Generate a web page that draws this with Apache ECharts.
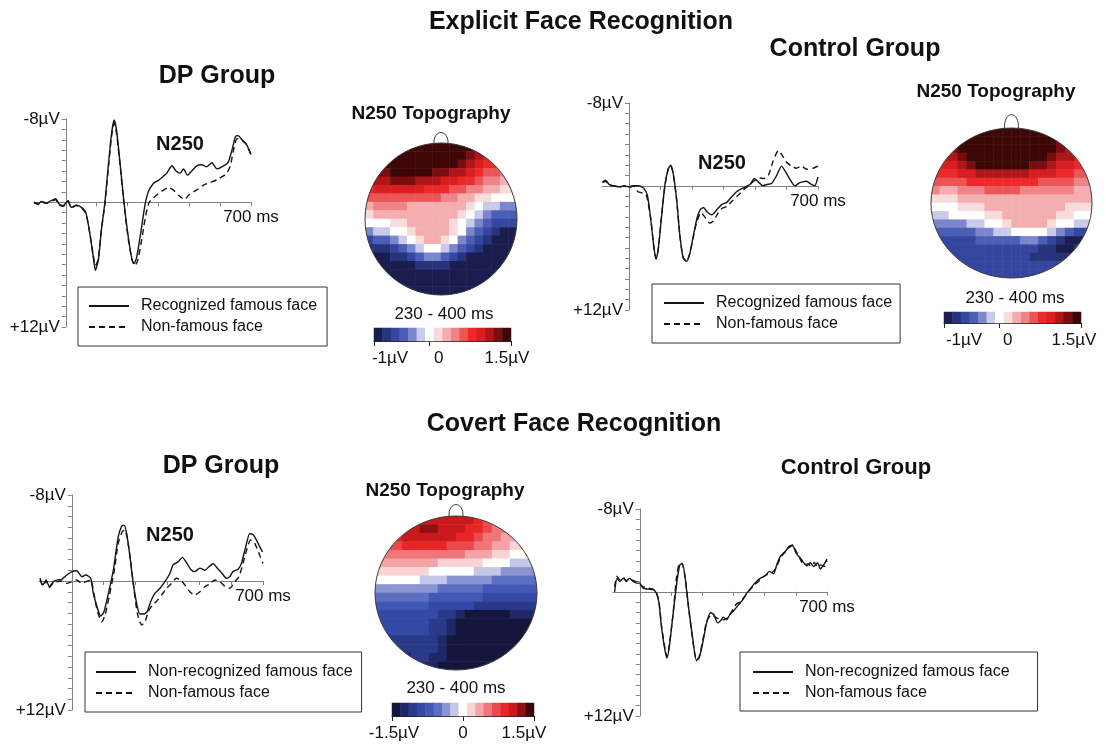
<!DOCTYPE html>
<html>
<head>
<meta charset="utf-8">
<script src="https://cdn.jsdelivr.net/npm/echarts@6/dist/echarts.min.js"></script>
<style>
  html, body { margin: 0; padding: 0; background: #fff; }
  #chart { width: 1106px; height: 749px; }
</style>
</head>
<body>
<div id="chart"></div>
<script>
const FONT = '"Liberation Sans", Arial, Helvetica, sans-serif';

// ---- ERP axes ----
const timeTicks = [0, 116.7, 233.3, 350, 466.7, 583.3, 700];
const timeLabels = [700];
const voltLabels = [-8, 12];

// ---- ERP waveforms, [ms, µV] (negative plotted up) ----
const expDpRecognized = [[-120,0],[-105,0.17],[-92,-0.07],[-73,0.07],[-54,-0.17],[-38,-0.33],[-25,0.17],[-10,0.33],[9,-0.17],[21,0.5],[40,0.26],[59,0.5],[76,1.0],[91,3.0],[104,5.3],[112,6.55],[123,5.6],[135,2.6],[148,0],[160,-3.3],[173,-6.6],[183,-7.9],[192,-6.9],[205,-3.8],[220,0],[236,3.3],[251,5.6],[258,5.9],[268,5.3],[283,3.0],[299,0.33],[312,-1.0],[331,-1.8],[350,-2.1],[369,-2.5],[382,-2.8],[401,-3.5],[417,-3.0],[432,-2.8],[445,-3.2],[460,-2.6],[476,-3.0],[495,-3.5],[514,-3.6],[533,-3.4],[552,-3.8],[571,-3.2],[590,-3.4],[613,-3.8],[628,-5.0],[641,-6.3],[651,-6.4],[666,-6.0],[682,-5.6],[700,-4.6]];
const expDpNonFamous = [[-120,0.07],[-105,0.2],[-92,0],[-73,0.1],[-54,-0.1],[-38,-0.23],[-25,0.26],[-10,0.4],[9,-0.07],[21,0.56],[40,0.33],[59,0.53],[76,1.06],[91,3.0],[104,5.1],[112,6.1],[123,5.45],[135,2.6],[148,0.17],[160,-3.0],[173,-6.3],[183,-7.6],[192,-6.6],[205,-3.6],[220,0.17],[236,3.5],[251,5.6],[261,6.1],[272,5.6],[287,3.6],[302,1.3],[315,0],[331,-0.4],[350,-0.83],[369,-1.16],[388,-1.4],[407,-1.16],[426,-0.66],[449,-0.26],[464,-0.66],[483,-1.0],[502,-1.3],[521,-1.65],[546,-1.9],[571,-2.15],[594,-2.5],[609,-2.8],[622,-3.5],[634,-5.0],[647,-6.1],[666,-5.95],[682,-5.55],[700,-4.56]];

const expCtrlRecognized = [[-98,-0.38],[-86,-0.54],[-74,-0.13],[-55,0],[-37,0.1],[-18,0],[0,0.1],[12,0],[37,0],[55,0.25],[68,0.9],[80,3.1],[92,5.9],[100,7.1],[108,6.2],[120,3.1],[133,-0.06],[145,-1.6],[154,-2.0],[163,-1.3],[176,1.2],[188,4.7],[200,6.9],[213,7.3],[225,6.55],[237,5.0],[252,3.1],[264,2.3],[276,2.1],[289,2.5],[307,2.8],[326,2.3],[344,1.8],[362,1.6],[381,1.04],[399,0.57],[424,0.19],[448,-0.13],[464,-0.7],[479,-0.38],[495,0],[510,-0.13],[528,-0.22],[547,-1.0],[565,-1.9],[583,-1.2],[602,-0.38],[614,0],[633,-0.3],[657,-0.44],[676,-0.13],[688,0],[700,-0.85]];
const expCtrlNonFamous = [[-98,-0.3],[-86,-0.44],[-74,-0.06],[-55,0.03],[-37,0.13],[-18,0.03],[0,0.16],[18,0],[33,0.57],[53,0.72],[65,0.95],[80,3.1],[92,5.9],[100,7.0],[108,6.2],[120,3.1],[133,0],[145,-1.6],[154,-1.95],[163,-1.26],[176,1.26],[188,4.7],[200,6.9],[213,7.3],[225,6.55],[237,5.1],[252,3.4],[267,2.6],[283,3.1],[299,3.6],[313,3.4],[326,2.8],[344,2.2],[362,2.0],[381,1.5],[399,1.04],[424,0.4],[448,-0.13],[467,-0.54],[485,-0.75],[500,-0.7],[516,-1.0],[534,-2.4],[553,-3.4],[565,-3.05],[583,-2.3],[602,-1.9],[620,-1.7],[639,-1.9],[657,-1.6],[682,-1.7],[700,-1.9]];

const covDpNonRecognized = [[-116,-0.25],[-106,0.37],[-94,-0.1],[-82,0.53],[-67,0.06],[-52,-0.1],[-37,-0.16],[-18,-0.56],[0,-0.87],[18,-0.96],[37,-0.4],[52,-0.56],[69,-0.25],[79,1.15],[94,2.54],[106,3.26],[118,2.85],[134,1.15],[152,-1.0],[170,-4.1],[183,-5.1],[191,-5.2],[201,-4.4],[213,-2.26],[225,0.22],[240,2.4],[250,3.07],[264,3.07],[276,2.85],[289,1.9],[304,1.15],[323,0.68],[341,0.06],[359,-0.7],[371,-1.5],[390,-1.8],[405,-2.2],[420,-1.7],[435,-1.1],[450,-0.87],[469,-1.2],[487,-1.0],[505,-1.4],[517,-1.6],[536,-1.1],[552,-0.65],[566,-0.25],[578,-0.4],[590,-0.87],[609,-1.1],[621,-1.64],[637,-3.2],[651,-4.4],[664,-4.3],[676,-3.8],[688,-3.2],[698,-2.7]];
const covDpNonFamous = [[-116,-0.15],[-106,0.47],[-94,0],[-82,0.6],[-67,0.15],[-52,0.06],[-37,0],[-18,0.22],[0,0.06],[18,-0.1],[37,0.22],[52,0.06],[69,-0.1],[82,1.3],[94,2.85],[110,3.8],[122,3.16],[138,1.3],[155,-0.87],[170,-3.5],[185,-4.6],[194,-4.75],[203,-4.0],[215,-1.95],[228,0.84],[240,3.0],[256,4.1],[268,3.8],[280,2.85],[296,2.2],[310,1.9],[329,1.3],[347,0.68],[365,0.22],[383,-0.25],[398,-0.1],[414,0.37],[432,1.0],[450,1.3],[469,1.0],[487,0.53],[505,0.28],[523,-0.1],[542,0.06],[560,0.47],[578,0.68],[597,0.06],[612,-0.4],[627,-1.64],[642,-3.04],[654,-3.8],[666,-3.66],[678,-3.04],[690,-2.26],[700,-1.64]];

const covCtrlNonRecognized = [[-94,0],[-85,-1.3],[-75,-1.0],[-62,-1.3],[-50,-1.1],[-37,-1.3],[-25,-1.0],[-10,-0.84],[0,-0.84],[12,-0.35],[31,-0.26],[50,-0.2],[62,0.13],[72,1.1],[81,3.35],[94,5.6],[102,6.4],[112,5.0],[125,2.06],[140,-1.16],[150,-2.6],[160,-2.7],[170,-1.3],[182,1.4],[197,4.3],[212,6.65],[222,6.4],[235,5.0],[250,3.0],[265,2.0],[277,2.2],[291,3.0],[302,2.8],[312,2.45],[325,2.7],[337,2.2],[352,1.8],[369,1.26],[387,0.7],[400,0.13],[415,-0.35],[431,-0.84],[450,-1.3],[469,-1.55],[485,-1.97],[500,-1.74],[512,-2.6],[525,-3.4],[544,-3.9],[562,-4.45],[572,-4.45],[585,-3.7],[600,-3.26],[612,-2.84],[625,-2.5],[637,-2.8],[650,-2.45],[665,-2.8],[675,-2.2],[690,-2.7],[700,-3.16]];
const covCtrlNonFamous = [[-94,-0.5],[-85,-1.5],[-75,-1.16],[-62,-1.4],[-50,-1.0],[-37,-1.2],[-25,-1.1],[-10,-0.9],[0,-0.68],[12,-0.5],[31,-0.35],[50,-0.26],[62,0.06],[72,0.94],[81,3.2],[94,5.45],[102,6.26],[112,4.9],[125,2.0],[137,-1.3],[147,-2.7],[157,-2.77],[169,-1.5],[182,1.4],[197,4.5],[212,6.6],[222,6.3],[235,4.8],[250,2.87],[269,2.2],[285,2.5],[300,2.65],[315,2.7],[331,2.45],[344,1.9],[362,1.16],[377,0.94],[394,0.39],[410,-0.13],[425,-0.58],[444,-1.0],[460,-1.42],[475,-1.65],[494,-1.87],[510,-2.3],[525,-3.26],[540,-3.74],[556,-4.2],[571,-4.55],[585,-3.9],[600,-3.16],[612,-2.6],[627,-2.7],[640,-2.5],[652,-2.84],[665,-2.4],[677,-2.6],[690,-2.45],[700,-3.0]];

// ---- N250 topographies, 18 x 18 cells, top row = front of head, units 0.1 µV ----
const topoExpDp = [
  [14,14,14,14,14,14,14,14,14,14,14,14,14,13,11,10,10,10],
  [14,14,14,14,14,14,14,14,14,14,14,14,13,11,10,10,8,8],
  [13,13,14,14,14,14,14,14,14,14,14,13,11,10,8,8,6,6],
  [11,13,13,14,14,14,14,14,13,13,11,11,10,8,6,6,5,5],
  [10,11,11,13,13,13,11,11,11,10,10,8,8,6,5,5,3,3],
  [8,10,10,10,10,10,10,8,8,8,6,6,5,5,3,3,2,2],
  [6,6,6,6,6,6,6,6,6,5,5,3,3,2,2,0,0,0],
  [3,5,5,5,5,3,3,3,3,3,3,3,2,0,-1,-1,-3,-3],
  [2,3,3,3,3,3,3,3,3,3,3,2,0,-1,-3,-5,-5,-5],
  [0,0,0,2,2,3,3,3,3,3,2,0,-1,-3,-5,-6,-6,-6],
  [-3,-1,-1,0,0,2,3,3,3,3,2,0,-3,-5,-6,-8,-9,-9],
  [-6,-5,-5,-3,-1,0,2,3,3,2,0,-3,-5,-6,-8,-9,-9,-9],
  [-8,-8,-8,-6,-5,-3,-1,0,0,-1,-3,-5,-6,-8,-9,-9,-9,-9],
  [-9,-9,-9,-8,-8,-6,-5,-3,-3,-5,-6,-8,-9,-9,-9,-9,-9,-9],
  [-9,-9,-9,-9,-9,-9,-8,-8,-8,-8,-9,-9,-9,-9,-9,-9,-9,-9],
  [-10,-10,-10,-10,-10,-10,-10,-10,-10,-10,-10,-10,-10,-10,-10,-10,-10,-10],
  [-10,-10,-10,-10,-10,-10,-10,-10,-10,-10,-10,-10,-10,-10,-10,-10,-10,-10],
  [-10,-10,-10,-10,-10,-10,-10,-10,-10,-10,-10,-10,-10,-10,-10,-10,-10,-10]
];
const topoExpCtrl = [
  [13,13,13,14,14,14,14,14,14,14,14,14,14,14,13,13,11,11],
  [13,13,13,14,14,14,14,14,14,14,14,14,14,14,13,13,11,11],
  [13,13,13,14,14,14,14,14,14,14,14,14,14,14,13,11,11,10],
  [11,11,11,13,14,14,14,14,14,14,14,14,14,13,11,11,10,10],
  [10,10,10,11,13,14,14,14,14,14,14,13,13,11,10,10,8,8],
  [8,8,8,10,10,11,11,11,11,11,11,10,10,10,8,8,6,6],
  [6,6,6,6,8,8,8,8,8,8,8,8,6,6,6,6,5,5],
  [5,3,3,5,5,5,6,6,6,6,5,5,5,5,5,5,3,3],
  [2,2,2,3,3,3,3,3,3,3,3,3,3,3,3,3,3,3],
  [0,0,0,2,2,2,3,3,3,3,3,3,3,3,3,2,2,2],
  [-1,-1,0,0,0,0,2,2,3,3,3,3,3,3,2,2,0,0],
  [-3,-3,-3,-3,-1,-1,0,0,2,3,3,3,3,2,0,0,-1,-1],
  [-5,-5,-5,-5,-5,-3,-3,-1,-1,0,0,0,0,-1,-3,-5,-6,-6],
  [-6,-6,-6,-6,-6,-5,-5,-5,-5,-5,-3,-3,-5,-6,-8,-9,-9,-8],
  [-6,-6,-6,-6,-6,-6,-6,-6,-6,-6,-6,-6,-8,-8,-9,-9,-8,-8],
  [-6,-6,-6,-6,-6,-6,-6,-6,-6,-6,-6,-8,-8,-8,-8,-8,-8,-8],
  [-6,-6,-6,-6,-6,-6,-6,-6,-6,-6,-6,-6,-6,-6,-6,-6,-6,-6],
  [-6,-6,-6,-6,-6,-6,-6,-6,-6,-6,-6,-6,-6,-6,-6,-6,-6,-6]
];
const topoCovDp = [
  [11,11,11,11,11,11,11,11,11,11,11,9,7,7,5,5,4,4],
  [11,11,11,11,11,12,12,11,11,11,9,9,7,5,5,4,4,4],
  [9,9,9,11,11,11,11,11,11,9,9,7,5,5,4,4,2,2],
  [7,7,7,9,9,9,9,9,7,7,7,5,5,4,4,2,2,2],
  [5,5,5,5,5,5,5,5,5,5,4,4,4,2,2,0,0,0],
  [4,4,4,4,4,4,4,2,2,2,2,2,0,0,0,-2,-2,-2],
  [2,2,2,2,2,2,0,0,0,0,0,-2,-2,-2,-4,-4,-4,-4],
  [0,0,0,0,0,-2,-2,-2,-4,-4,-4,-4,-4,-5,-5,-5,-5,-5],
  [-4,-4,-4,-4,-4,-4,-4,-5,-5,-5,-5,-5,-7,-7,-7,-7,-7,-7],
  [-5,-5,-5,-5,-5,-5,-7,-7,-7,-7,-7,-7,-9,-9,-9,-9,-9,-9],
  [-7,-7,-7,-7,-7,-7,-9,-9,-9,-9,-9,-11,-11,-11,-11,-11,-11,-11],
  [-9,-9,-9,-9,-9,-9,-9,-11,-11,-12,-14,-14,-14,-14,-14,-12,-12,-12],
  [-9,-9,-9,-9,-9,-9,-11,-11,-12,-14,-14,-14,-14,-14,-14,-14,-14,-14],
  [-9,-9,-9,-9,-9,-9,-11,-11,-12,-14,-14,-14,-14,-14,-14,-14,-14,-14],
  [-11,-11,-11,-11,-11,-11,-11,-12,-14,-14,-14,-14,-14,-14,-14,-14,-14,-14],
  [-11,-11,-11,-11,-11,-11,-11,-12,-14,-14,-14,-14,-14,-14,-14,-14,-14,-14],
  [-12,-12,-12,-12,-11,-11,-12,-12,-14,-14,-14,-14,-14,-14,-14,-14,-14,-14],
  [-12,-12,-12,-12,-12,-12,-12,-14,-14,-14,-14,-14,-14,-14,-14,-14,-14,-14]
];

// colour scale tick labels (µV)
const scaleExp = [-1, 0, 1.5];
const scaleCov = [-1.5, 0, 1.5];

const paletteExp = ['#1b1d4f','#27337a','#3546a0','#4a5fb4','#7c86cc','#c9cbeb','#ffffff','#f7dcdc','#f4aeb0','#ee8486','#ea5556','#ec2a2c','#d81e20','#ae1619','#7a0d10','#3e0707'];
const paletteCov = ['#14163e','#1f2766','#2a3a8a','#3448a6','#4258b4','#5c6ec0','#8a94d0','#c4c8e8','#ffffff','#f8d4d4','#f4a4a6','#ee7678','#ea4a4c','#e82628','#c81a1c','#8e1012','#3c0606'];

// ---- layout ----
const erpPanels = [
  { grid: {left: 34, top: 119, width: 217, height: 208}, xMin: -120, solid: expDpRecognized, dashed: expDpNonFamous,
    solidName: 'Recognized famous face', legend: {left: 78, top: 287, padding: [11, 10, 11, 10]} },
  { grid: {left: 602, top: 103, width: 216, height: 207}, xMin: -100, solid: expCtrlRecognized, dashed: expCtrlNonFamous,
    solidName: 'Recognized famous face', legend: {left: 652, top: 284, padding: [11, 8, 11, 11]} },
  { grid: {left: 39, top: 495, width: 224, height: 215}, xMin: -120, solid: covDpNonRecognized, dashed: covDpNonFamous,
    solidName: 'Non-recognized famous face', legend: {left: 85, top: 652, padding: [12, 9, 11, 10]} },
  { grid: {left: 613, top: 509, width: 214, height: 207}, xMin: -100, solid: covCtrlNonRecognized, dashed: covCtrlNonFamous,
    solidName: 'Non-recognized famous face', legend: {left: 740, top: 652, padding: [12, 28, 10, 12]} }
];

const topoPanels = [
  { grid: {left: 365, top: 143, width: 152, height: 152}, values: topoExpDp, vm: 0,
    bar: {left: 374, top: 328, width: 137, height: 13}, scale: scaleExp, shifts: [16, 10, -4], nose: 11 },
  { grid: {left: 931, top: 128, width: 161, height: 150}, values: topoExpCtrl, vm: 0,
    bar: {left: 944, top: 312, width: 137, height: 11}, scale: scaleExp, shifts: [20, 9, -7], nose: 14 },
  { grid: {left: 375, top: 516, width: 162, height: 154}, values: topoCovDp, vm: 1,
    bar: {left: 392, top: 703, width: 142, height: 13}, scale: scaleCov, shifts: [2, 0, -10], nose: 12 }
];
const scales = [{min: -1, max: 1.5, palette: paletteExp}, {min: -1.5, max: 1.5, palette: paletteCov}];

const texts = [
  ['Explicit Face Recognition', 581, 22, 25, 'bold'],
  ['DP Group', 217, 76, 25, 'bold'],
  ['Control Group', 855, 49, 25, 'bold'],
  ['N250 Topography', 431, 114, 19, 'bold'],
  ['N250 Topography', 996, 92, 19, 'bold'],
  ['N250', 180, 144, 20, 'bold'],
  ['N250', 722, 163, 20, 'bold'],
  ['230 - 400 ms', 444, 314, 17, 'normal'],
  ['230 - 400 ms', 1015, 298, 17, 'normal'],
  ['Covert Face Recognition', 574, 424, 25, 'bold'],
  ['DP Group', 221, 466, 25, 'bold'],
  ['Control Group', 856, 468, 22, 'bold'],
  ['N250 Topography', 445, 491, 19, 'bold'],
  ['N250', 170, 535, 20, 'bold'],
  ['230 - 400 ms', 456, 688, 17, 'normal']
];

// ---- build option ----
const grid = [], xAxis = [], yAxis = [], series = [], legend = [];
const vmSeries = [[], []];
const labelStyle = {fontFamily: FONT, fontSize: 17, color: '#111'};
const lineColor = '#151515';
const VMIN = voltLabels[0], VMAX = voltLabels[1], TMAX = timeLabels[0];

erpPanels.forEach(p => {
  const g = grid.length;
  grid.push(Object.assign({outerBoundsMode: 'none', containLabel: false}, p.grid));
  // axes cross at 0 ms / 0 µV: shift them inwards from the grid edges
  const yShift = p.grid.width * (0 - p.xMin) / (TMAX - p.xMin);
  const xShift = p.grid.height * (VMAX - 0) / (VMAX - VMIN);
  xAxis.push({
    type: 'value', gridIndex: g, min: p.xMin, max: TMAX, position: 'bottom', offset: -xShift,
    axisLine: {onZero: false, lineStyle: {color: '#808080', width: 1}},
    axisTick: {show: true, customValues: timeTicks, length: 4, lineStyle: {color: '#808080'}},
    axisLabel: Object.assign({customValues: timeLabels, margin: 7, formatter: v => v + ' ms'}, labelStyle),
    splitLine: {show: false}
  });
  yAxis.push({
    type: 'value', gridIndex: g, min: VMIN, max: VMAX, interval: 1, inverse: true, position: 'left', offset: -yShift,
    axisLine: {show: true, onZero: false, lineStyle: {color: '#808080', width: 1}},
    axisTick: {show: true, length: 4, lineStyle: {color: '#808080'}},
    axisLabel: Object.assign({customValues: voltLabels, margin: 6, formatter: v => (v > 0 ? '+' : '') + v + 'µV'}, labelStyle),
    splitLine: {show: false}
  });
  const ax = xAxis.length - 1, ay = yAxis.length - 1;
  series.push({
    type: 'line', name: p.solidName, xAxisIndex: ax, yAxisIndex: ay, data: p.solid,
    symbol: 'none', smooth: 0.2, itemStyle: {color: lineColor},
    lineStyle: {color: lineColor, width: 1.4, type: 'solid'}, z: 4
  });
  series.push({
    type: 'line', name: 'Non-famous face', xAxisIndex: ax, yAxisIndex: ay, data: p.dashed,
    symbol: 'none', smooth: 0.2, itemStyle: {color: lineColor},
    lineStyle: {color: lineColor, width: 1.4, type: [6, 4]}, z: 3
  });
  legend.push({
    orient: 'vertical', left: p.legend.left, top: p.legend.top, padding: p.legend.padding,
    data: [p.solidName, 'Non-famous face'], selectedMode: false,
    itemWidth: 40, itemHeight: 14, itemGap: 5,
    itemStyle: {opacity: 0, borderWidth: 0},
    borderColor: '#333', borderWidth: 1, borderRadius: 0,
    textStyle: {fontFamily: FONT, fontSize: 16, color: '#111', lineHeight: 16, padding: [0, 0, 0, 7]}
  });
});

const N = 18;
const ellipsePath = 'M0,50 A50,50 0 1,1 100,50 A50,50 0 1,1 0,50 Z';

topoPanels.forEach(p => {
  const sc = scales[p.vm];
  // head map
  let g = grid.length;
  grid.push(Object.assign({outerBoundsMode: 'none', containLabel: false}, p.grid));
  const cats = p.values.map((_, k) => k);
  xAxis.push({type: 'category', gridIndex: g, data: cats, show: false});
  yAxis.push({type: 'category', gridIndex: g, data: cats, inverse: true, show: false});
  let ax = xAxis.length - 1, ay = yAxis.length - 1;
  const cells = [];
  p.values.forEach((row, r) => row.forEach((v, c) => {
    const nx = Math.min(Math.max(N / 2, c), c + 1) - N / 2;
    const ny = Math.min(Math.max(N / 2, r), r + 1) - N / 2;
    if (nx * nx + ny * ny < (N / 2) * (N / 2)) cells.push([c, r, v / 10]);
  }));
  vmSeries[p.vm].push(series.length);
  series.push({type: 'heatmap', xAxisIndex: ax, yAxisIndex: ay, data: cells, silent: true,
    itemStyle: {borderWidth: 0}, emphasis: {disabled: true}, z: 2});
  const noseH = p.nose;
  series.push({
    type: 'custom', coordinateSystem: 'cartesian2d', xAxisIndex: ax, yAxisIndex: ay, data: [[0, 0]], silent: true, z: 5,
    renderItem: (params) => {
      const cs = params.coordSys;
      const cx = cs.x + cs.width / 2, top = cs.y;
      const w = 15;
      return {type: 'group', children: [
        {type: 'path', shape: {pathData: ellipsePath, x: cs.x - w / 2, y: cs.y - w / 2, width: cs.width + w, height: cs.height + w, layout: 'cover'},
          style: {fill: 'none', stroke: '#ffffff', lineWidth: w}},
        {type: 'path', shape: {pathData: ellipsePath, x: cs.x, y: cs.y, width: cs.width, height: cs.height, layout: 'cover'},
          style: {fill: 'none', stroke: '#3a3a3a', lineWidth: 1}},
        {type: 'bezierCurve', shape: {x1: cx - 7, y1: top + 1, cpx1: cx - 8, cpy1: top - noseH * 1.3, cpx2: cx + 8, cpy2: top - noseH * 1.3, x2: cx + 7, y2: top + 1},
          style: {fill: 'none', stroke: '#3a3a3a', lineWidth: 1}}
      ]};
    }
  });

  // colour bar
  g = grid.length;
  grid.push(Object.assign({outerBoundsMode: 'none', containLabel: false}, p.bar));
  const n = sc.palette.length, step = (sc.max - sc.min) / n;
  xAxis.push({type: 'category', gridIndex: g, data: sc.palette.map((_, k) => k), show: false, position: 'bottom'});
  const bx = xAxis.length - 1;
  const rich = {};
  p.shifts.forEach((s, k) => {
    rich['s' + k] = Object.assign({padding: s >= 0 ? [0, 0, 0, 2 * s] : [0, -2 * s, 0, 0]}, labelStyle);
  });
  xAxis.push({
    type: 'value', gridIndex: g, min: sc.min, max: sc.max, position: 'bottom',
    axisLine: {show: true, onZero: false, lineStyle: {color: '#222', width: 1}},
    axisTick: {show: true, customValues: p.scale, length: 5, lineStyle: {color: '#222'}},
    axisLabel: Object.assign({customValues: p.scale, margin: 9, rich: rich,
      formatter: v => {
        const k = p.scale.indexOf(v);
        return '{s' + k + '|' + (v === 0 ? '0' : v + 'µV') + '}';
      }}, labelStyle),
    splitLine: {show: false}
  });
  yAxis.push({type: 'category', gridIndex: g, data: [0], show: false});
  ay = yAxis.length - 1;
  vmSeries[p.vm].push(series.length);
  series.push({type: 'heatmap', xAxisIndex: bx, yAxisIndex: ay, silent: true,
    data: sc.palette.map((_, k) => [k, 0, sc.min + (k + 0.5) * step]),
    itemStyle: {borderWidth: 0}, emphasis: {disabled: true}, z: 2});
});

const visualMap = scales.map((sc, k) => {
  const n = sc.palette.length, step = (sc.max - sc.min) / n;
  return {
    type: 'piecewise', show: false, dimension: 2, seriesIndex: vmSeries[k],
    pieces: sc.palette.map((c, i) => i === n - 1
      ? {gte: sc.min + i * step, lte: sc.max + 1e-9, color: c}
      : {gte: sc.min + i * step - (i === 0 ? 1e-9 : 0), lt: sc.min + (i + 1) * step, color: c})
  };
});

const graphic = texts.map(t => ({
  type: 'text', x: t[1], y: t[2], z: 100, silent: true,
  style: {text: t[0], fontFamily: FONT, fontSize: t[3], fontWeight: t[4], fill: '#111',
    align: 'center', verticalAlign: 'middle', textAlign: 'center', textVerticalAlign: 'middle'}
}));

const chart = echarts.init(document.getElementById('chart'), null, {renderer: 'canvas'});
chart.setOption({
  backgroundColor: '#ffffff',
  animation: false,
  grid, xAxis, yAxis, series, legend, visualMap, graphic
});
</script>
</body>
</html>
